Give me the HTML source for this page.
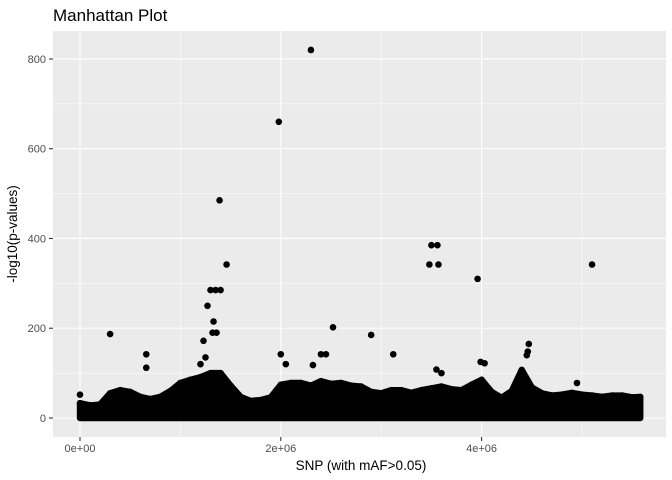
<!DOCTYPE html>
<html><head><meta charset="utf-8">
<style>
html,body{margin:0;padding:0;background:#fff;}
svg{display:block;font-family:"Liberation Sans",sans-serif;}
</style></head>
<body>
<svg id="chart" width="672" height="480" viewBox="0 0 672 480">
<text x="53" y="21" font-size="17" fill="#000">Manhattan Plot</text>
<rect x="53" y="31" width="613" height="406" fill="#EBEBEB"/>
<g id="grid"></g>
<g id="band"></g>
<g id="pts"></g>
<g id="axes"></g>
<text x="361" y="470" font-size="13.5" text-anchor="middle" fill="#000">SNP (with mAF&gt;0.05)</text>
<text transform="translate(17,234) rotate(-90)" font-size="13.5" text-anchor="middle" fill="#000">-log10(p-values)</text>
</svg>
<script>
// envelope of the dense band (position in Mb, -log10 p)
const bandPos = [0,0.1,0.2,0.3,0.4,0.5,0.6,0.7,0.8,0.9,1.0,1.1,1.2,1.3,1.4,1.5,1.6,1.7,1.8,1.9,2.0,2.1,2.2,2.3,2.4,2.5,2.6,2.7,2.8,2.9,3.0,3.1,3.2,3.3,3.4,3.5,3.6,3.7,3.8,3.9,4.0,4.1,4.2,4.3,4.4,4.5,4.6,4.7,4.8,4.9,5.0,5.1,5.2,5.3,5.4,5.5,5.58];
const bandTop = [33,28,30,55,62,58,47,42,47,60,78,85,91,100,100,72,47,38,40,46,74,78,78,72,82,76,78,72,70,58,55,62,62,56,62,66,70,64,62,74,85,58,45,60,107,68,55,50,52,56,52,50,47,50,50,46,47];
// outlier SNPs
const snpPos = [0.3,1.39,1.98,2.3,1.46,1.3,1.35,1.4,1.27,1.33,1.32,1.36,1.23,3.5,3.56,3.48,3.57,3.96,5.1,2.52,2.9,3.12,0.66,0.66,2.0,2.4,2.45,2.32,4.47,4.45,4.46,3.99,4.03,3.55,3.6,4.95,0.0,1.2,1.25,2.05];
const snpVal = [187,485,660,820,342,285,285,285,250,215,190,190,172,385,385,342,342,310,342,202,185,142,142,112,142,142,142,118,165,140,148,125,122,108,100,78,52,120,135,120];
const yTicks = [0,200,400,600,800];
const yMinor = [100,300,500,700];
const xTicks = [0,2,4];
const xTickLabels = ["0e+00","2e+06","4e+06"];
const xMinor = [1,3,5];

const NS="http://www.w3.org/2000/svg";
const X = v => 80 + v*100.4;
const Y = v => 418 - v*0.4488;
function mk(tag, attrs, parent){const e=document.createElementNS(NS,tag);for(const k in attrs)e.setAttribute(k,attrs[k]);parent.appendChild(e);return e;}
const grid=document.getElementById('grid'), band=document.getElementById('band'), pts=document.getElementById('pts'), axes=document.getElementById('axes');

yMinor.forEach(v=>{const l=mk('line',{x1:53,x2:666,y1:Y(v),y2:Y(v),stroke:'#fff','stroke-width':0.55},grid);

});
xMinor.forEach(v=>{const l=mk('line',{x1:X(v),x2:X(v),y1:31,y2:437,stroke:'#fff','stroke-width':0.55},grid);

});
yTicks.forEach(v=>{const l=mk('line',{x1:53,x2:666,y1:Y(v),y2:Y(v),stroke:'#fff','stroke-width':1.1},grid);


const t=mk('line',{x1:49,x2:53,y1:Y(v),y2:Y(v),stroke:'#333','stroke-width':1.1},axes);


const tx=mk('text',{x:46,y:Y(v)+4,'font-size':11,'text-anchor':'end',fill:'#4d4d4d'},axes);tx.textContent=v;

});
xTicks.forEach((v,i)=>{const l=mk('line',{x1:X(v),x2:X(v),y1:31,y2:437,stroke:'#fff','stroke-width':1.1},grid);


const t=mk('line',{x1:X(v),x2:X(v),y1:437,y2:441,stroke:'#333','stroke-width':1.1},axes);


const tx=mk('text',{x:X(v),y:452,'font-size':11,'text-anchor':'middle',fill:'#4d4d4d'},axes);tx.textContent=xTickLabels[i];

});

// dense band
let d='M'+X(bandPos[0])+','+Y(0);
bandPos.forEach((p,i)=>{d+=' L'+X(p)+','+Y(bandTop[i]);});
d+=' L'+X(bandPos[bandPos.length-1])+','+Y(0)+' Z';
const bp=mk('path',{d:d,fill:'#000',stroke:'#000','stroke-width':6.4,'stroke-linejoin':'round'},band);


bandPos.forEach((p,i)=>{const c=mk('circle',{cx:X(p),cy:Y(bandTop[i]),r:3.3,fill:'#000'},band);

});

snpPos.forEach((p,i)=>{const c=mk('circle',{cx:X(p),cy:Y(snpVal[i]),r:3.3,fill:'#000'},pts);

});
</script>
</body></html>
